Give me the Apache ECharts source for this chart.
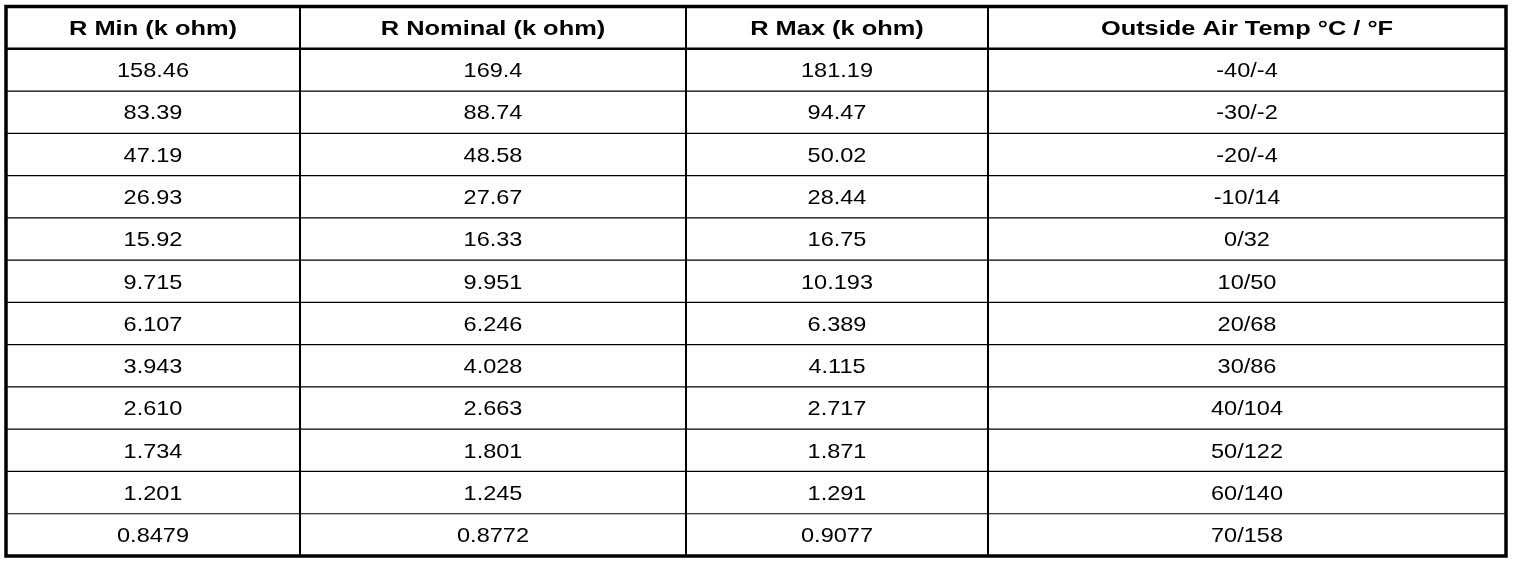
<!DOCTYPE html>
<html>
<head>
<meta charset="utf-8">
<script src="https://cdn.jsdelivr.net/npm/echarts@6/dist/echarts.min.js"></script>
<style>
html,body{margin:0;padding:0;background:#fff;}
#chart{width:1520px;height:564px;}
</style>
</head>
<body>
<div id="chart"></div>
<script>
// ---- data ----
var headers = ['R Min (k ohm)', 'R Nominal (k ohm)', 'R Max (k ohm)', 'Outside Air Temp \u00B0C / \u00B0F'];
var rMin = ['158.46', '83.39', '47.19', '26.93', '15.92', '9.715', '6.107', '3.943', '2.610', '1.734', '1.201', '0.8479'];
var rNominal = ['169.4', '88.74', '48.58', '27.67', '16.33', '9.951', '6.246', '4.028', '2.663', '1.801', '1.245', '0.8772'];
var rMax = ['181.19', '94.47', '50.02', '28.44', '16.75', '10.193', '6.389', '4.115', '2.717', '1.871', '1.291', '0.9077'];
var outsideTemp = ['-40/-4', '-30/-2', '-20/-4', '-10/14', '0/32', '10/50', '20/68', '30/86', '40/104', '50/122', '60/140', '70/158'];

// ---- layout (column edges in axis units) ----
var colEdges = [0, 294, 680, 982, 1500];
var columns = [rMin, rNominal, rMax, outsideTemp];
var nRows = rMin.length + 1;

var cells = [];
headers.forEach(function (h, c) { cells.push([c, 0, h]); });
columns.forEach(function (col, c) {
  col.forEach(function (v, r) { cells.push([c, r + 1, v]); });
});

var chart = echarts.init(document.getElementById('chart'), null, {renderer: 'canvas'});
chart.setOption({
  backgroundColor: '#fff',
  animation: false,
  grid: {
    left: 6, top: 6.5, right: 14, bottom: 8,
    show: true, borderColor: '#000', borderWidth: 3.5, backgroundColor: '#fff'
  },
  xAxis: {type: 'value', min: 0, max: colEdges[colEdges.length - 1], show: false},
  yAxis: {type: 'value', min: 0, max: nRows, inverse: true, show: false},
  series: [{
    type: 'custom',
    coordinateSystem: 'cartesian2d',
    data: cells,
    clip: false,
    renderItem: function (params, api) {
      var c = api.value(0), r = api.value(1);
      var text = cells[params.dataIndex][2];
      var p0 = api.coord([colEdges[c], r]);
      var p1 = api.coord([colEdges[c + 1], r + 1]);
      var isHeader = r === 0;
      var children = [];
      if (r < nRows - 1) {
        var lw = isHeader ? 2.5 : 1.2;
        children.push({
          type: 'line',
          shape: {x1: p0[0], y1: p1[1], x2: p1[0], y2: p1[1]},
          style: {stroke: '#000', lineWidth: lw}
        });
      }
      if (c < colEdges.length - 2) {
        children.push({
          type: 'line',
          shape: {x1: p1[0], y1: p0[1], x2: p1[0], y2: p1[1]},
          style: {stroke: '#000', lineWidth: 2}
        });
      }
      children.push({
        type: 'text',
        x: (p0[0] + p1[0]) / 2,
        y: (p0[1] + p1[1]) / 2 + 1.5,
        scaleX: isHeader ? 1.27 : 1.12,
        style: {
          text: text,
          fill: '#000',
          font: (isHeader ? 'bold 20px' : '21px') + ' "Liberation Sans", Arial, sans-serif',
          textAlign: 'center',
          textVerticalAlign: 'middle'
        }
      });
      return {type: 'group', children: children};
    }
  }]
});
</script>
</body>
</html>
